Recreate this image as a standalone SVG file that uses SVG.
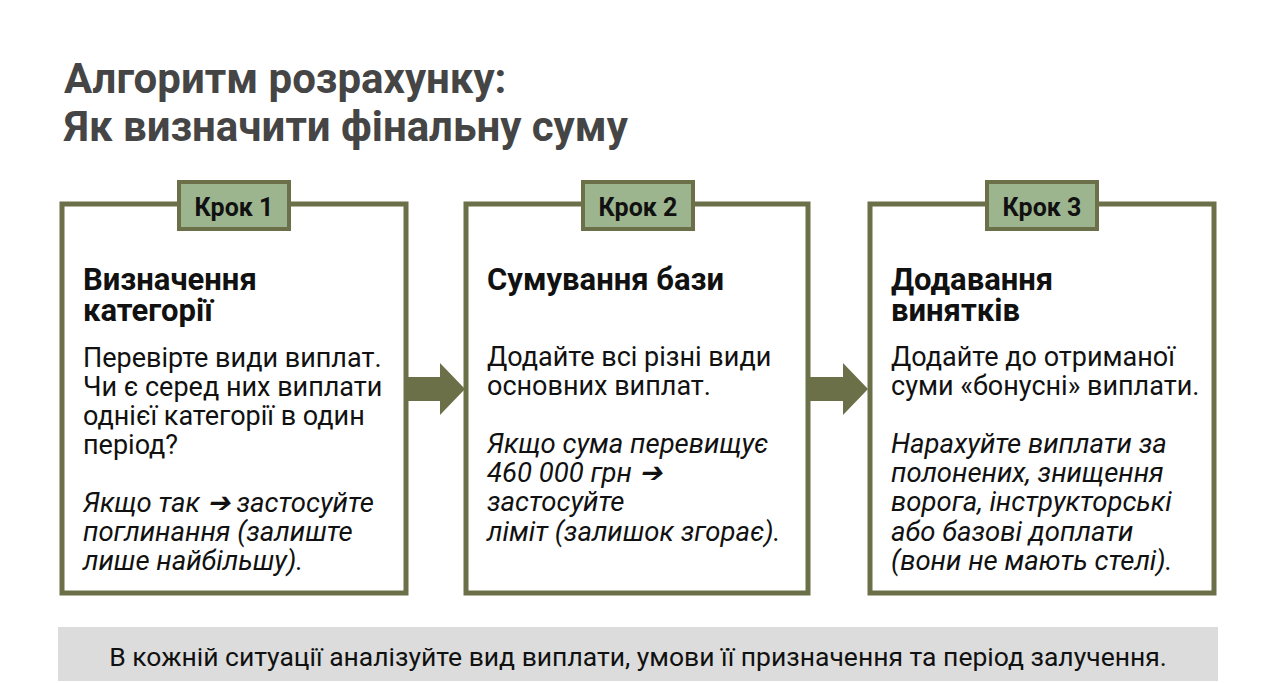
<svg xmlns="http://www.w3.org/2000/svg" width="1280" height="683" viewBox="0 0 1280 683">
<defs>
<style>
.bg{fill:#ffffff}
.box{fill:#ffffff;stroke:#6c7049;stroke-width:5}
.tab{fill:#9db58f;stroke:#6c7049;stroke-width:4}
.tabt{font-family:Roboto,"Liberation Sans",sans-serif;font-weight:bold;font-size:25px;fill:#111;text-anchor:middle}
.title{font-family:Roboto,"Liberation Sans",sans-serif;font-weight:bold;font-size:42px;fill:#454545}
.h{font-family:Roboto,"Liberation Sans",sans-serif;font-weight:bold;font-size:31px;fill:#111}
.b{font-family:Roboto,"Liberation Sans",sans-serif;font-size:27px;fill:#111}
.i{font-style:italic;font-size:27.5px}
.arrow{fill:#6c7049}
.bar{fill:#dcdcdc}
.bart{font-family:Roboto,"Liberation Sans",sans-serif;font-size:26.5px;fill:#111;text-anchor:middle}
</style>
</defs>
<rect class="bg" x="0" y="0" width="1280" height="683"/>
<g id="title">
<text class="title" x="64" y="93">Алгоритм розрахунку:</text>
<text class="title" x="64" y="141">Як визначити фінальну суму</text>
</g>
<g id="connectors">
<polygon class="arrow" points="408,377 440,377 440,363 465,389 440,415 440,401 408,401"/>
<polygon class="arrow" points="810,377 843,377 843,363 868,389 843,415 843,401 810,401"/>
</g>
<g id="step1">
<rect class="box" x="62" y="204" width="344" height="389"/>
<rect class="tab" x="179" y="182" width="110" height="47"/>
<text class="tabt" x="234" y="216">Крок 1</text>
<text class="h" x="83" y="290">Визначення</text>
<text class="h" x="83" y="321">категорії</text>
<text class="b" x="83" y="367">Перевірте види виплат.</text>
<text class="b" x="83" y="396">Чи є серед них виплати</text>
<text class="b" x="83" y="425">однієї категорії в один</text>
<text class="b" x="83" y="454">період?</text>
<text class="b i" x="83" y="512">Якщо так ➔ застосуйте</text>
<text class="b i" x="83" y="541">поглинання (залиште</text>
<text class="b i" x="83" y="570">лише найбільшу).</text>
</g>
<g id="step2">
<rect class="box" x="466" y="204" width="342" height="389"/>
<rect class="tab" x="583" y="182" width="110" height="47"/>
<text class="tabt" x="638" y="216">Крок 2</text>
<text class="h" x="487" y="290">Сумування бази</text>
<text class="b" x="487" y="366">Додайте всі різні види</text>
<text class="b" x="487" y="395">основних виплат.</text>
<text class="b i" x="487" y="453">Якщо сума перевищує</text>
<text class="b i" x="487" y="482">460 000 грн ➔</text>
<text class="b i" x="487" y="511">застосуйте</text>
<text class="b i" x="487" y="541">ліміт (залишок згорає).</text>
</g>
<g id="step3">
<rect class="box" x="870" y="204" width="344" height="389"/>
<rect class="tab" x="987" y="182" width="110" height="47"/>
<text class="tabt" x="1042" y="216">Крок 3</text>
<text class="h" x="891" y="290">Додавання</text>
<text class="h" x="891" y="321">винятків</text>
<text class="b" x="891" y="366">Додайте до отриманої</text>
<text class="b" x="891" y="395">суми «бонусні» виплати.</text>
<text class="b i" x="891" y="453">Нарахуйте виплати за</text>
<text class="b i" x="891" y="482">полонених, знищення</text>
<text class="b i" x="891" y="511">ворога, інструкторські</text>
<text class="b i" x="891" y="541">або базові доплати</text>
<text class="b i" x="891" y="570">(вони не мають стелі).</text>
</g>
<g id="note">
<rect class="bar" x="58" y="627" width="1160" height="54"/>
<text class="bart" x="638" y="666">В кожній ситуації аналізуйте вид виплати, умови її призначення та період залучення.</text>
</g>
</svg>
